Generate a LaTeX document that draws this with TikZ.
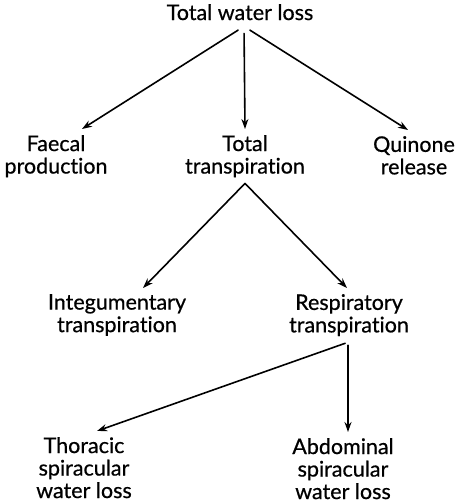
\documentclass[tikz,border=0pt]{standalone}
\usepackage{fontspec}
\setmainfont{Lato}[Ligatures=NoCommon,FakeBold=0.6]
\usetikzlibrary{arrows.meta}

\begin{document}
\begin{tikzpicture}[x=1pt,y=1pt,>={Stealth[length=10pt,width=7pt]},line cap=round,
  box/.style={align=center,anchor=north,inner xsep=0pt,inner ysep=6pt,font=\fontsize{21.5}{22.5}\selectfont},
  arr/.style={->,line width=1.6pt}]
\useasboundingbox (0,0) rectangle (458,-503);
% levels of the loss tree
\node[box] (water) at (240,2) {Total water loss};
\node[box] (faecal) at (56,-129) {Faecal\\production};
\node[box] (trans) at (245,-129) {Total\\transpiration};
\node[box] (quin) at (414,-130) {Quinone\\release};
\node[box] (integ) at (117,-288) {Integumentary\\transpiration};
\node[box] (resp) at (349,-288) {Respiratory\\transpiration};
\node[box] (thor) at (84,-431) {Thoracic\\spiracular\\water loss};
\node[box] (abd) at (343,-432) {Abdominal\\spiracular\\water loss};
% arrows
\draw[arr,shorten <=7pt] ([xshift=4pt]water.south) -- ([xshift=26pt]faecal.north);
\draw[arr,shorten <=7pt] ([xshift=4pt]water.south) -- (trans.north);
\draw[arr,shorten <=7pt] ([xshift=4pt]water.south) -- ([xshift=-6pt]quin.north);
\draw[arr] (trans.south) -- ([xshift=26pt]integ.north);
\draw[arr] (trans.south) -- ([xshift=-2pt]resp.north);
\draw[arr,shorten <=3pt] ([xshift=-1pt]resp.south) -- ([xshift=13pt]thor.north);
\draw[arr,shorten <=3pt] ([xshift=-1pt]resp.south) -- ([xshift=5pt]abd.north);
\end{tikzpicture}
\end{document}
